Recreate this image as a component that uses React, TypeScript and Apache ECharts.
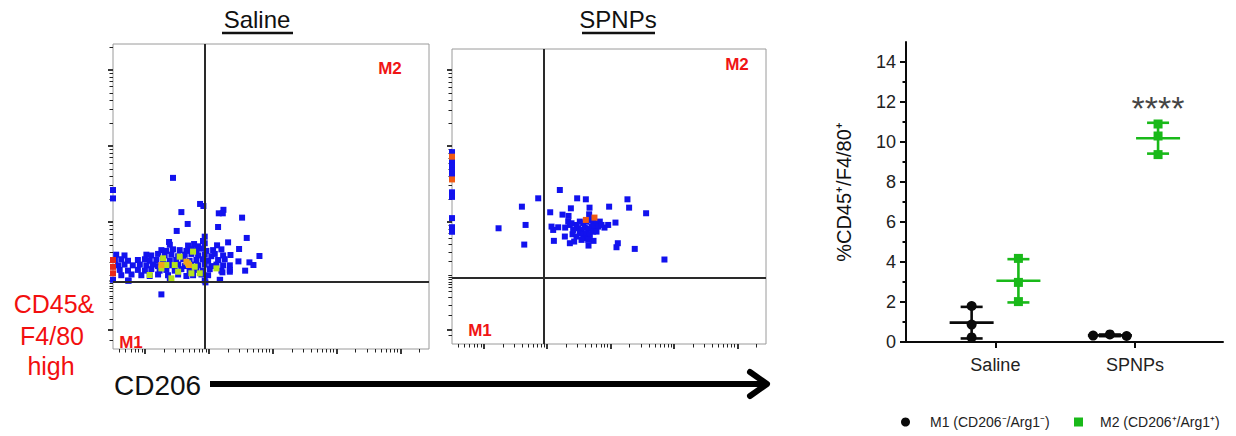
import React, { useEffect, useRef } from "react";
import * as echarts from "echarts";

// ---------------- Right panel data (mean ± SD of replicates) ----------------
const groups = ["Saline", "SPNPs"];
const m1Name = "M1 (CD206\u207B/Arg1\u207B)";
const m2Name = "M2 (CD206\u207A/Arg1\u207A)";
const m1Values = [
  [1.8, 0.87, 0.23],
  [0.32, 0.38, 0.3],
];
const m2Values = [
  [4.18, 2.98, 2.02],
  [10.9, 10.3, 9.37],
];
const significanceM2 = ["", "****"];
const significanceY = [0, 11.7];
const yTicks = [0, 2, 4, 6, 8, 10, 12, 14];
const yMinorTicks = [1, 3, 5, 7, 9, 11, 13];
const yAxisTitle = "%CD45\u207A/F4/80\u207A";

// ---------------- Flow cytometry dot plots (x: CD206, y: CD45&F4/80, decades) ----------------
const salineBlue: number[][] = [
  [0.44, 2.58], [0.864, 2.237], [0.916, 2.21], [0.571, 2.13], [1.157, 2.114], [1.23, 2.16], [1.22, 2.114],
  [1.522, 2.057], [0.67, 1.974], [1.146, 1.934], [0.498, 1.882], [1.595, 1.79], [1.303, 1.732], [1.13, 1.693],
  [0.378, 1.737], [1.475, 1.645], [1.794, 1.553], [1.34, 1.566], [1.465, 1.482], [1.637, 1.469], [1.7, 1.434],
  [1.57, 1.36], [1.33, 1.346], [1.214, 1.338], [1.178, 1.237], [0.948, 1.206], [0.258, 1.048], [-0.5, 2.42],
  [-0.5, 2.31], [-0.254, 1.228], [0.937, 1.807], [0.91, 1.75],
  [0.39, 1.7], [0.676, 1.69], [0.77, 1.71], [0.833, 1.68], [0.937, 1.72],
  [0.258, 1.63], [0.336, 1.62], [0.44, 1.64], [0.545, 1.63], [0.65, 1.62], [0.728, 1.64], [0.807, 1.63],
  [0.885, 1.65], [0.963, 1.62], [1.068, 1.63], [1.198, 1.64],
  [-0.45, 1.57], [-0.32, 1.56], [0.023, 1.57], [0.1, 1.56], [0.206, 1.58], [0.31, 1.56], [0.415, 1.57],
  [0.52, 1.55], [0.624, 1.57], [0.728, 1.58], [0.833, 1.56], [0.937, 1.57], [1.04, 1.55], [1.094, 1.58], [1.225, 1.56],
  [-0.47, 1.5], [-0.37, 1.51], [-0.265, 1.49], [-0.11, 1.5], [0.0, 1.51], [0.075, 1.49], [0.18, 1.5],
  [0.284, 1.51], [0.39, 1.49], [0.49, 1.5], [0.6, 1.51], [0.7, 1.49], [0.807, 1.5], [0.91, 1.51],
  [0.99, 1.49], [1.146, 1.5], [1.25, 1.51],
  [-0.42, 1.43], [-0.32, 1.44], [-0.19, 1.43], [-0.08, 1.44], [0.023, 1.43], [0.127, 1.44], [0.206, 1.42],
  [0.31, 1.44], [0.415, 1.43], [0.52, 1.44], [0.624, 1.42], [0.728, 1.44], [0.833, 1.43], [0.937, 1.44],
  [1.04, 1.42], [1.12, 1.44], [1.225, 1.43], [1.33, 1.43],
  [-0.395, 1.37], [-0.265, 1.36], [-0.11, 1.37], [0.0, 1.36], [0.1, 1.38], [0.23, 1.36], [0.336, 1.37],
  [0.467, 1.36], [0.571, 1.38], [0.7, 1.36], [0.807, 1.37], [0.91, 1.36], [1.015, 1.38], [1.198, 1.36], [1.33, 1.37],
  [-0.37, 1.3], [-0.21, 1.31], [-0.056, 1.3], [0.075, 1.29], [0.206, 1.31], [0.362, 1.3], [0.52, 1.31],
  [0.65, 1.29], [0.754, 1.3], [0.885, 1.31], [0.99, 1.3],
  [-0.5, 1.24], [-0.265, 1.23], [0.39, 1.24], [0.937, 1.23], [1.172, 1.24],
];
const salineGreen: number[][] = [
  [0.284, 1.522], [0.336, 1.434], [0.258, 1.39], [0.545, 1.544], [0.754, 1.61], [0.467, 1.434], [0.52, 1.346],
  [0.676, 1.456], [0.78, 1.412], [0.728, 1.325], [0.075, 1.303], [0.415, 1.259], [1.12, 1.39], [0.859, 1.325],
];
const salineOrange: number[][] = [[0.258, 1.434], [0.65, 1.478], [0.69, 1.434]];
const salineRed: number[][] = [[-0.5, 1.5], [-0.5, 1.41], [-0.5, 1.325]];
const salineGate = [0.94, 1.21];

const spnpsBlue: number[][] = [
  [1.2, 2.421], [0.859, 2.311], [1.473, 2.311], [1.61, 2.298], [2.266, 2.298], [0.602, 2.201], [1.374, 2.179],
  [1.668, 2.188], [1.977, 2.201], [2.292, 2.188], [1.048, 2.127], [1.242, 2.096], [2.56, 2.114], [1.337, 2.079],
  [1.662, 2.1], [0.66, 1.96], [0.234, 1.916], [1.069, 1.938], [1.174, 1.929], [1.095, 1.894], [1.284, 1.925],
  [1.332, 2.004], [1.358, 1.96], [1.962, 1.96], [2.077, 1.991], [1.904, 1.925], [1.279, 1.807], [1.106, 1.75],
  [1.4, 1.837], [1.358, 1.719], [1.426, 1.741], [1.652, 1.688], [1.731, 1.75], [0.639, 1.701], [2.093, 1.666],
  [2.114, 1.719], [2.381, 1.644], [2.849, 1.504],
  [1.463, 1.96], [1.515, 2.004], [1.568, 1.982], [1.62, 2.004], [1.673, 2.026], [1.725, 2.004], [1.778, 1.982],
  [1.83, 2.004], [1.489, 1.916], [1.542, 1.894], [1.594, 1.925], [1.647, 1.907], [1.699, 1.938], [1.752, 1.916],
  [1.804, 1.938], [1.857, 1.96], [1.515, 1.85], [1.568, 1.828], [1.62, 1.85], [1.673, 1.828], [1.725, 1.872],
  [1.778, 1.872], [1.463, 1.807], [1.594, 1.785], [1.647, 1.763], [1.542, 1.763], [1.41, 1.894], [1.384, 1.982],
  [-0.5, 2.92], [-0.5, 2.82], [-0.5, 2.78], [-0.5, 2.74], [-0.5, 2.68], [-0.5, 2.63], [-0.5, 2.39],
  [-0.5, 2.33], [-0.5, 2.05], [-0.5, 1.93], [-0.5, 1.87],
];
const spnpsOrange: number[][] = [[1.61, 2.026], [1.746, 2.057], [-0.5, 2.86], [-0.5, 2.56]];
const spnpsGate = [0.95, 1.26];

const flowXRange = [-0.5, 4.45];
const salineYRange = [0.33, 4.34];
const spnpsYRange = [0.39, 4.28];
const flowXDecades = [-1, 0, 1, 2, 3, 4];
const flowYDecades = [1, 2, 3, 4];
const flowYLowMajor = [0.58];
const flowYLowMinor = [0.45, 0.72, 0.85, 0.95, 1.03, 1.09, 1.13, 1.16, 1.19, 1.22, 1.24];

const FONT = "'Liberation Sans', Arial, Helvetica, sans-serif";

function logTicks(range: number[], decades: number[], majorMin: number) {
  const major: number[] = [];
  const minor: number[] = [];
  for (const d of decades) {
    for (let k = 1; k <= 9; k++) {
      const v = +(d + Math.log10(k)).toFixed(4);
      if (v < range[0] - 1e-6 || v > range[1] + 1e-6) continue;
      if (k === 1 && d >= majorMin) major.push(v);
      else minor.push(v);
    }
  }
  return { major, minor };
}

function mean(a: number[]) {
  return a.reduce((s, v) => s + v, 0) / a.length;
}
function sd(a: number[]) {
  const m = mean(a);
  return Math.sqrt(a.reduce((s, v) => s + (v - m) * (v - m), 0) / (a.length - 1));
}

export default function App() {
  const ref = useRef<HTMLDivElement>(null);

  useEffect(() => {
    if (!ref.current) return;
    const chart = echarts.init(ref.current, undefined, { renderer: "svg" });

    const fx = logTicks(flowXRange, flowXDecades, 0);
    const sy = logTicks(salineYRange, flowYDecades, 2);
    const py = logTicks(spnpsYRange, flowYDecades, 2);

    const tickColor = "#222";
    const flowX = (grid: number, vals: number[], major: boolean) => ({
      gridIndex: grid,
      type: "value",
      min: flowXRange[0],
      max: flowXRange[1],
      position: "bottom",
      axisLine: { show: false, onZero: false },
      splitLine: { show: false },
      axisLabel: { show: false },
      axisTick: {
        show: true,
        customValues: vals,
        length: major ? 5 : 3.5,
        lineStyle: { color: tickColor, width: major ? 1.8 : 1 },
      },
    });
    const flowY = (grid: number, range: number[], vals: number[], major: boolean) => ({
      gridIndex: grid,
      type: "value",
      min: range[0],
      max: range[1],
      position: "left",
      axisLine: { show: false, onZero: false },
      splitLine: { show: false },
      axisLabel: { show: false },
      axisTick: {
        show: true,
        customValues: vals,
        length: major ? 5 : 3.5,
        lineStyle: { color: tickColor, width: major ? 1.8 : 1 },
      },
    });

    const gateLine = (gate: number[]) => ({
      silent: true,
      symbol: ["none", "none"],
      label: { show: false },
      lineStyle: { color: "#2a2a2a", width: 2, type: "solid" },
      data: [{ xAxis: gate[0] }, { yAxis: gate[1] }],
    });

    const flowSeries = (xi: number, yi: number, data: number[][], color: string, z: number, gate?: number[]) => ({
      type: "scatter",
      xAxisIndex: xi,
      yAxisIndex: yi,
      data,
      symbol: "rect",
      symbolSize: 6,
      itemStyle: { color, opacity: 1 },
      silent: true,
      z,
      clip: false,
      ...(gate ? { markLine: gateLine(gate) } : {}),
    });

    // right panel
    const m1Offset = -0.17;
    const m2Offset = 0.165;
    const m1Spread = [[0, 0, 0], [-0.12, 0, 0.12]];
    const m1Points: number[][] = [];
    const m2Points: number[][] = [];
    const m1Err: number[][] = [];
    const m2Err: number[][] = [];
    groups.forEach((g, gi) => {
      const cx1 = gi + 1 + m1Offset + (gi === 1 ? -0.01 : 0);
      const cx2 = gi + 1 + m2Offset;
      m1Values[gi].forEach((v, k) => m1Points.push([cx1 + m1Spread[gi][k], v]));
      m2Values[gi].forEach((v) => m2Points.push([cx2, v]));
      m1Err.push([cx1, mean(m1Values[gi]), sd(m1Values[gi])]);
      m2Err.push([cx2, mean(m2Values[gi]), sd(m2Values[gi])]);
    });
    const sigData = groups
      .map((g, gi) => ({ value: [gi + 1 + m2Offset, significanceY[gi]], text: significanceM2[gi] }))
      .filter((d) => d.text);

    const black = "#0a0a0a";
    const green = "#19b919";

    const errSeries = (name: string, data: number[][], color: string) => ({
      type: "custom",
      name,
      xAxisIndex: 4,
      yAxisIndex: 4,
      data,
      encode: { x: 0, y: 1 },
      silent: true,
      z: 2,
      renderItem: (params: any, api: any) => {
        const x = api.value(0);
        const m = api.value(1);
        const s = api.value(2);
        const c = api.coord([x, m]);
        const t = api.coord([x, m + s]);
        const b = api.coord([x, m - s]);
        const style = { stroke: color, lineWidth: 2.6 };
        const cap = 11;
        const half = 22;
        return {
          type: "group",
          children: [
            { type: "line", shape: { x1: c[0], y1: t[1], x2: c[0], y2: b[1] }, style },
            { type: "line", shape: { x1: c[0] - cap, y1: t[1], x2: c[0] + cap, y2: t[1] }, style },
            { type: "line", shape: { x1: c[0] - cap, y1: b[1], x2: c[0] + cap, y2: b[1] }, style },
            { type: "line", shape: { x1: c[0] - half, y1: c[1], x2: c[0] + half, y2: c[1] }, style },
          ],
        };
      },
    });

    const red = "#f01414";

    const option: any = {
      animation: false,
      backgroundColor: "#ffffff",
      textStyle: { fontFamily: FONT },
      grid: [
        { left: 113, top: 44, width: 316, height: 305, show: true, borderColor: "#9a9a9a", borderWidth: 1, backgroundColor: "transparent", outerBoundsMode: "none" },
        { left: 452, top: 49, width: 314, height: 295, show: true, borderColor: "#9a9a9a", borderWidth: 1, backgroundColor: "transparent", outerBoundsMode: "none" },
        { left: 906, top: 42, width: 317, height: 300, outerBoundsMode: "none" },
      ],
      xAxis: [
        flowX(0, fx.major, true),
        flowX(0, fx.minor, false),
        flowX(1, fx.major, true),
        flowX(1, fx.minor, false),
        {
          gridIndex: 2,
          type: "value",
          min: 0.36,
          max: 2.63,
          position: "bottom",
          axisLine: { show: true, lineStyle: { color: black, width: 2 } },
          splitLine: { show: false },
          axisTick: { show: true, customValues: [1, 2], length: 6, lineStyle: { color: black, width: 2 } },
          axisLabel: {
            show: true,
            customValues: [1, 2],
            formatter: (v: number) => groups[Math.round(v) - 1] ?? "",
            fontSize: 18,
            color: "#222",
            margin: 14,
            fontFamily: FONT,
          },
        },
      ],
      yAxis: [
        flowY(0, salineYRange, [...sy.major, ...flowYLowMajor], true),
        flowY(0, salineYRange, [...sy.minor, ...flowYLowMinor], false),
        flowY(1, spnpsYRange, [...py.major, ...flowYLowMajor], true),
        flowY(1, spnpsYRange, [...py.minor, ...flowYLowMinor.map((v) => +(v + 0.05).toFixed(3))], false),
        {
          gridIndex: 2,
          type: "value",
          min: 0,
          max: 15,
          position: "left",
          axisLine: { show: true, onZero: false, lineStyle: { color: black, width: 2 } },
          splitLine: { show: false },
          axisTick: { show: true, customValues: yTicks, length: 6, lineStyle: { color: black, width: 2 } },
          axisLabel: { show: true, customValues: yTicks, fontSize: 18, color: "#222", margin: 10, fontFamily: FONT },
          name: yAxisTitle,
          nameLocation: "middle",
          nameGap: 52,
          nameTextStyle: { fontSize: 20, color: "#111", fontFamily: FONT },
        },
        {
          gridIndex: 2,
          type: "value",
          min: 0,
          max: 15,
          position: "left",
          axisLine: { show: false, onZero: false },
          splitLine: { show: false },
          axisTick: { show: true, customValues: yMinorTicks, length: 3.5, lineStyle: { color: black, width: 2 } },
          axisLabel: { show: false },
        },
      ],
      legend: [
        {
          data: [m1Name],
          left: 896,
          top: 410,
          itemWidth: 9,
          itemHeight: 9,
          selectedMode: false,
          textStyle: { fontSize: 14, color: "#222", fontFamily: FONT, padding: [0, 0, 0, 15] },
        },
        {
          data: [m2Name],
          left: 1069,
          top: 410,
          itemWidth: 9,
          itemHeight: 9,
          selectedMode: false,
          textStyle: { fontSize: 14, color: "#222", fontFamily: FONT, padding: [0, 0, 0, 12] },
        },
      ],
      series: [
        flowSeries(0, 0, salineBlue, "#1212ee", 2),
        flowSeries(0, 0, salineGreen, "#b4e21e", 3),
        flowSeries(0, 0, salineOrange, "#f2a31c", 4),
        flowSeries(0, 0, salineRed, "#e5281a", 5, salineGate),
        flowSeries(2, 2, spnpsBlue, "#1212ee", 2),
        flowSeries(2, 2, spnpsOrange, "#f05a14", 5, spnpsGate),
        errSeries("m1err", m1Err, black),
        errSeries("m2err", m2Err, green),
        {
          type: "scatter",
          name: m1Name,
          xAxisIndex: 4,
          yAxisIndex: 4,
          data: m1Points,
          symbol: "circle",
          symbolSize: 10,
          itemStyle: { color: black, opacity: 1 },
          z: 5,
        },
        {
          type: "scatter",
          name: m2Name,
          xAxisIndex: 4,
          yAxisIndex: 4,
          data: m2Points,
          symbol: "rect",
          symbolSize: 9,
          itemStyle: { color: green, opacity: 1 },
          z: 5,
        },
        {
          type: "scatter",
          name: "significance",
          xAxisIndex: 4,
          yAxisIndex: 4,
          data: sigData.map((d) => d.value),
          symbolSize: 1,
          itemStyle: { color: "rgba(0,0,0,0)" },
          label: {
            show: true,
            position: "inside",
            formatter: (p: any) => sigData[p.dataIndex].text,
            fontSize: 34,
            color: "#111",
            fontFamily: FONT,
          },
          silent: true,
          z: 6,
        },
      ],
      graphic: [
        // titles
        { type: "text", x: 257, y: 19, style: { text: "Saline", fontSize: 24, fontFamily: FONT, fill: "#111", align: "center", verticalAlign: "middle" } },
        { type: "line", shape: { x1: 222, y1: 33, x2: 293, y2: 33 }, style: { stroke: "#111", lineWidth: 2.5 } },
        { type: "text", x: 618, y: 19, style: { text: "SPNPs", fontSize: 24, fontFamily: FONT, fill: "#111", align: "center", verticalAlign: "middle" } },
        { type: "line", shape: { x1: 582, y1: 33, x2: 655, y2: 33 }, style: { stroke: "#111", lineWidth: 2.5 } },
        // gate labels
        { type: "text", x: 390, y: 68, z: 10, style: { text: "M2", fontSize: 17, fontWeight: "bold", fontFamily: FONT, fill: red, align: "center", verticalAlign: "middle" } },
        { type: "text", x: 131, y: 342, z: 10, style: { text: "M1", fontSize: 17, fontWeight: "bold", fontFamily: FONT, fill: red, align: "center", verticalAlign: "middle" } },
        { type: "text", x: 737, y: 64, z: 10, style: { text: "M2", fontSize: 17, fontWeight: "bold", fontFamily: FONT, fill: red, align: "center", verticalAlign: "middle" } },
        { type: "text", x: 480, y: 330, z: 10, style: { text: "M1", fontSize: 17, fontWeight: "bold", fontFamily: FONT, fill: red, align: "center", verticalAlign: "middle" } },
        // y label of dot plots
        { type: "text", x: 54, y: 304, style: { text: "CD45&", fontSize: 25, fontFamily: FONT, fill: "#f20f0f", align: "center", verticalAlign: "middle" } },
        { type: "text", x: 52, y: 336, style: { text: "F4/80", fontSize: 25, fontFamily: FONT, fill: "#f20f0f", align: "center", verticalAlign: "middle" } },
        { type: "text", x: 51, y: 366, style: { text: "high", fontSize: 25, fontFamily: FONT, fill: "#f20f0f", align: "center", verticalAlign: "middle" } },
        // CD206 arrow
        { type: "text", x: 114, y: 385, style: { text: "CD206", fontSize: 28, fontFamily: FONT, fill: "#111", align: "left", verticalAlign: "middle" } },
        { type: "line", shape: { x1: 210, y1: 384, x2: 766, y2: 384 }, style: { stroke: "#000", lineWidth: 6 } },
        { type: "polyline", shape: { points: [[750, 372], [767, 384], [750, 396]] }, style: { stroke: "#000", fill: "none", lineWidth: 6, lineCap: "round", lineJoin: "round" } },
      ],
    };

    chart.setOption(option);
    return () => chart.dispose();
  }, []);

  return (
    <div
      ref={ref}
      style={{ position: "absolute", left: 0, top: 0, width: 1236, height: 436, background: "#fff" }}
    />
  );
}
